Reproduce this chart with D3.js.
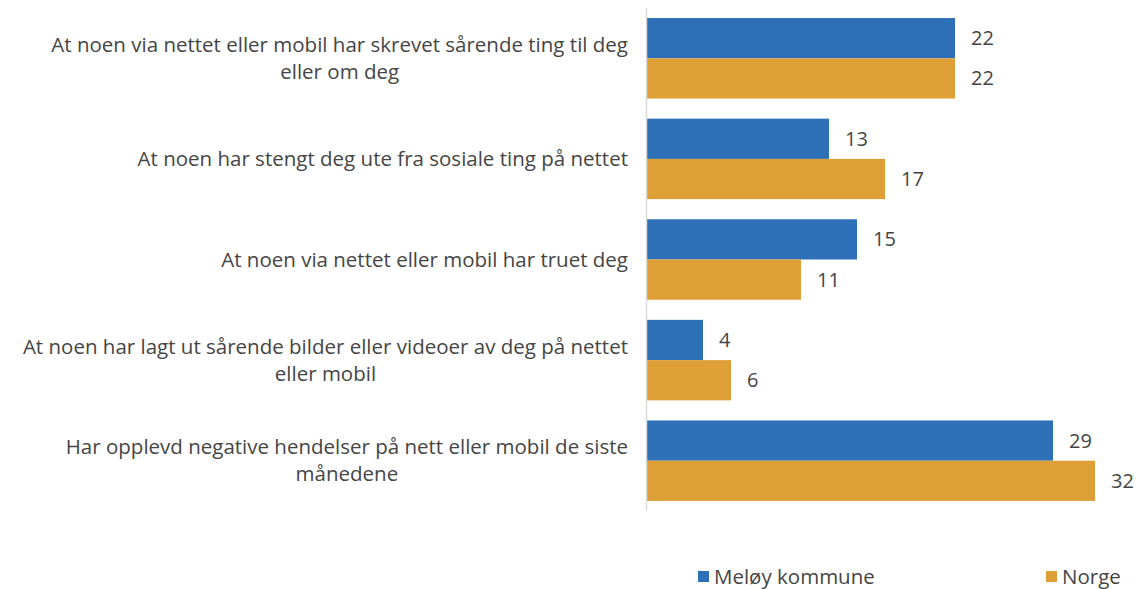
<!DOCTYPE html>
<html>
<head>
<meta charset="utf-8">
<script src="https://cdn.jsdelivr.net/npm/d3@7"></script>
<style>
  html, body { margin: 0; padding: 0; background: #fff; }
  svg text { font-family: "Open Sans", "Roboto", sans-serif; font-weight: 400; fill: #454545; }
</style>
</head>
<body>
<svg id="chart" width="1143" height="589"></svg>
<script>
// Andel (%) som har opplevd hendelser på nett eller mobil
const categories = [
  "At noen via nettet eller mobil har skrevet sårende ting til deg eller om deg",
  "At noen har stengt deg ute fra sosiale ting på nettet",
  "At noen via nettet eller mobil har truet deg",
  "At noen har lagt ut sårende bilder eller videoer av deg på nettet eller mobil",
  "Har opplevd negative hendelser på nett eller mobil de siste månedene"
];
const seriesNames = ["Meløy kommune", "Norge"];
const meloy = [22, 13, 15, 4, 29];
const norge = [22, 17, 11, 6, 32];
const colors = ["#2d70b7", "#df9f37"];

const svg = d3.select("#chart");
const labelSize = 20.5;
const valueSize = 20;
const legendSize = 20.5;
const margin = { left: 647, top: 8, bottom: 78 };
const plotH = 589 - margin.top - margin.bottom;

const y = d3.scaleBand()
  .domain(categories)
  .range([margin.top, margin.top + plotH])
  .paddingInner(0.2)
  .paddingOuter(0.1);

const ySub = d3.scaleBand()
  .domain(seriesNames)
  .range([0, y.bandwidth()]);

const x = d3.scaleLinear()
  .domain([0, 32])
  .range([margin.left, 1095]);

const rows = categories.map((c, i) => ({ cat: c, vals: [meloy[i], norge[i]] }));

// bars
const g = svg.append("g");
const groups = g.selectAll("g.grp").data(rows).join("g")
  .attr("class", "grp")
  .attr("transform", d => `translate(0,${y(d.cat)})`);

groups.selectAll("rect").data(d => d.vals.map((v, j) => ({ v, s: seriesNames[j], j })))
  .join("rect")
  .attr("x", x(0))
  .attr("y", d => ySub(d.s))
  .attr("width", d => x(d.v) - x(0))
  .attr("height", ySub.bandwidth())
  .attr("fill", d => colors[d.j]);

groups.selectAll("text.val").data(d => d.vals.map((v, j) => ({ v, s: seriesNames[j] })))
  .join("text")
  .attr("class", "val")
  .attr("x", d => x(d.v) + 16)
  .attr("y", d => ySub(d.s) + ySub.bandwidth() / 2)
  .attr("dy", "0.35em")
  .attr("font-size", valueSize)
  .text(d => d.v);

// vertical axis line
svg.append("line")
  .attr("x1", x(0) - 0.5).attr("x2", x(0) - 0.5)
  .attr("y1", margin.top).attr("y2", margin.top + plotH)
  .attr("stroke", "#d9d9d9").attr("stroke-width", 1.5);

// category labels, wrapped and centered as a block against the axis
const wrapWidth = 610;
const labelRight = 628;
const lineH = 27;
const measure = svg.append("text").attr("font-size", labelSize).attr("visibility", "hidden");
function textWidth(s) { measure.text(s); return measure.node().getComputedTextLength(); }
function wrap(s) {
  const words = s.split(" ");
  const lines = [];
  let cur = "";
  for (const w of words) {
    const t = cur ? cur + " " + w : w;
    if (textWidth(t) > wrapWidth && cur) { lines.push(cur); cur = w; } else cur = t;
  }
  lines.push(cur);
  return lines;
}
categories.forEach(c => {
  const lines = wrap(c);
  const blockW = d3.max(lines, textWidth);
  const cx = labelRight - blockW / 2;
  const cy = y(c) + y.bandwidth() / 2;
  lines.forEach((ln, k) => {
    svg.append("text")
      .attr("font-size", labelSize)
      .attr("text-anchor", "middle")
      .attr("x", cx)
      .attr("y", cy + (k - (lines.length - 1) / 2) * lineH)
      .attr("dy", "0.35em")
      .text(ln);
  });
});
measure.remove();

// legend
const legendX = [698, 1046];
const legend = svg.append("g");
seriesNames.forEach((name, j) => {
  legend.append("rect")
    .attr("x", legendX[j]).attr("y", 571)
    .attr("width", 11).attr("height", 11)
    .attr("fill", colors[j]);
  legend.append("text")
    .attr("x", legendX[j] + 16).attr("y", 577)
    .attr("dy", "0.35em")
    .attr("font-size", legendSize)
    .text(name);
});
</script>
</body>
</html>
